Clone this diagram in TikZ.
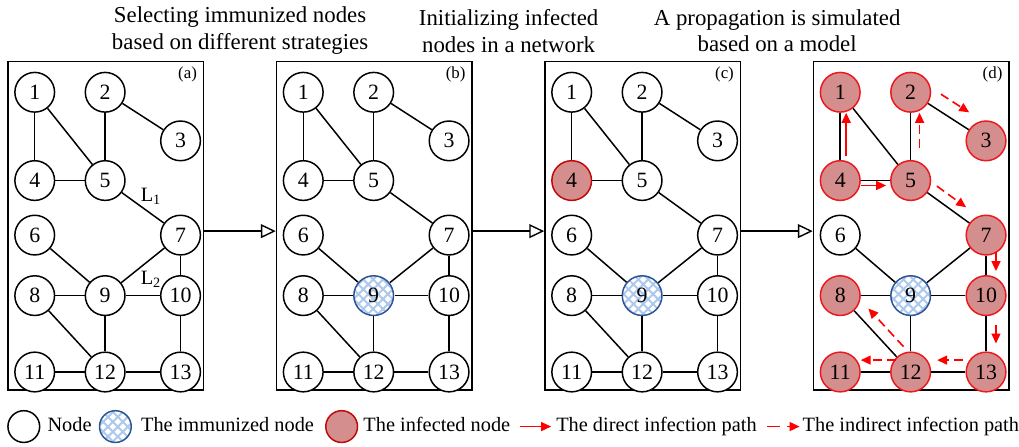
\documentclass[tikz,border=0pt]{standalone}
\usepackage{fontspec}
\setmainfont{Liberation Serif}
\usetikzlibrary{positioning,arrows.meta,patterns.meta}

\definecolor{infill}{RGB}{212,142,142}
\definecolor{indark}{RGB}{192,10,10}
\definecolor{inred}{RGB}{235,25,30}
\definecolor{imblue}{RGB}{46,84,150}
\definecolor{imdots}{RGB}{172,200,236}

\begin{document}
\begin{tikzpicture}[x=1pt,y=1pt,
   vert/.style={circle,draw,line width=1.5pt,minimum size=40pt,inner sep=0pt,
      fill=white,font=\fontsize{22}{22}\selectfont},
   immune/.style={vert,draw=imblue,
      preaction={fill=white},
      preaction={pattern={Lines[angle=45,distance=7pt,line width=2pt]},pattern color=imdots},
      pattern={Lines[angle=-45,distance=7pt,line width=2pt]},pattern color=imdots},
   infected/.style={vert,draw=indark,fill=infill},
   infectedd/.style={vert,draw=inred,fill=infill},
   edge/.style={line width=1.5pt},
   panel/.style={draw,line width=1.4pt,minimum width=197pt,minimum height=331pt},
   plabel/.style={font=\fontsize{17}{17}\selectfont,anchor=east},
   title/.style={align=center,font=\fontsize{23}{27}\selectfont},
   flow/.style={line width=1.4pt,-{Triangle[open,length=15pt,width=14pt]}},
   direct/.style={red,line width=1.6pt,-{Triangle[length=10pt,width=9pt]}},
   indirect/.style={direct,dash pattern=on 9pt off 5pt},
   ltext/.style={inner sep=0pt,text height=14pt,text depth=4pt,font=\fontsize{20.5}{20.5}\selectfont}]

   % titles
   \node[title] (t1) at (242,-31) {Selecting immunized nodes\\based on different strategies};
   \node[title] (t2) at (512.7,-31) {Initializing infected\\nodes in a network};
   \node[title] (t3) at (783.4,-31) {A propagation is simulated\\based on a model};

   % the four panels
   \foreach \p/\dx/\sfour/\snine/\srest in {a/0/vert/vert/vert,b/270.7/vert/immune/vert,
         c/541.3/infected/immune/vert,d/812/infectedd/immune/infectedd} {
      \node[panel] (box\p) at (106.5+\dx,-227.5) {};
      \node[plabel] (lab\p) at (202+\dx,-75) {(\p)};
      \foreach \n/\x/\y in {1/35/93,2/106/93,3/182/142,4/35/182,5/106/182,6/35/237,7/182/237,
            8/35/298,9/106/298,10/182/298,11/35/375,12/106/375,13/182/375} {
         \def\st{\srest}
         \ifnum\n=4 \def\st{\sfour}\fi
         \ifnum\n=9 \def\st{\snine}\fi
         \ifnum\n=6 \def\st{vert}\fi
         \node[\st] (\p\n) at (\dx+\x,-\y) {\n};
      }
      \foreach \u/\v in {1/4,1/5,2/5,2/3,4/5,5/7,6/9,7/9,7/10,8/9,9/10,8/12,9/12,10/13,11/12,12/13}
         \draw[edge] (\p\u) -- (\p\v);
   }

   \node[ltext] (l1) at (152,-198) {L\textsubscript{1}};
   \node[ltext] (l2) at (152,-282) {L\textsubscript{2}};

   \draw[flow] ([yshift=-5.5pt]boxa.east) -- ([yshift=-5.5pt]boxb.west);
   \draw[flow] ([yshift=-5.5pt]boxb.east) -- ([yshift=-5.5pt]boxc.west);
   \draw[flow] ([yshift=-5.5pt]boxc.east) -- ([yshift=-5.5pt]boxd.west);

   % infection paths in (d)
   \draw[direct,transform canvas={xshift=6pt},shorten <=4pt] (d4) -- (d1);
   \draw[direct,transform canvas={yshift=-5pt},shorten >=4pt] (d4) -- (d5);
   \draw[indirect,transform canvas={xshift=9pt},shorten <=12pt] (d5) -- (d2);
   \draw[indirect,transform canvas={xshift=8pt,yshift=12.6pt},shorten <=6pt,shorten >=9pt] (d2) -- (d3);
   \draw[indirect,transform canvas={xshift=6.4pt,yshift=8.9pt},shorten <=4pt,shorten >=12pt] (d5) -- (d7);
   \draw[indirect,transform canvas={xshift=10pt},shorten <=-4pt,shorten >=4pt] (d7) -- (d10);
   \draw[indirect,transform canvas={xshift=10pt},shorten <=9pt,shorten >=8pt] (d10) -- (d13);
   \draw[indirect,transform canvas={yshift=12pt},shorten <=3pt,shorten >=6pt] (d13) -- (d12);
   \draw[indirect,transform canvas={yshift=12pt},shorten <=-6pt] (d12) -- (d11);
   \draw[indirect,transform canvas={xshift=8.9pt,yshift=8.1pt},shorten <=3pt,shorten >=8pt] (d12) -- (d8);

   % legend
   \node[vert,minimum size=32pt] (lg1) at (24,-430) {};
   \node[ltext,right=7pt of lg1] (lt1) {Node};
   \node[immune,minimum size=32pt,right=7pt of lt1] (lg2) {};
   \node[ltext,right=9pt of lg2] (lt2) {The immunized node};
   \node[infected,minimum size=32pt,right=11pt of lt2] (lg3) {};
   \node[ltext,right=5pt of lg3] (lt3) {The infected node};
   \coordinate[right=10pt of lt3] (la1);
   \node[ltext,right=46pt of lt3] (lt4) {The direct infection path};
   \draw[direct,shorten >=5pt] (la1) -- (lt4);
   \coordinate[right=10pt of lt4] (la2);
   \node[ltext,right=46pt of lt4] (lt5) {The indirect infection path};
   \draw[direct,dash pattern=on 13pt off 7pt,shorten >=3pt] (la2) -- (lt5);

   \useasboundingbox (0,0) rectangle (1019,-450);
\end{tikzpicture}
\end{document}
